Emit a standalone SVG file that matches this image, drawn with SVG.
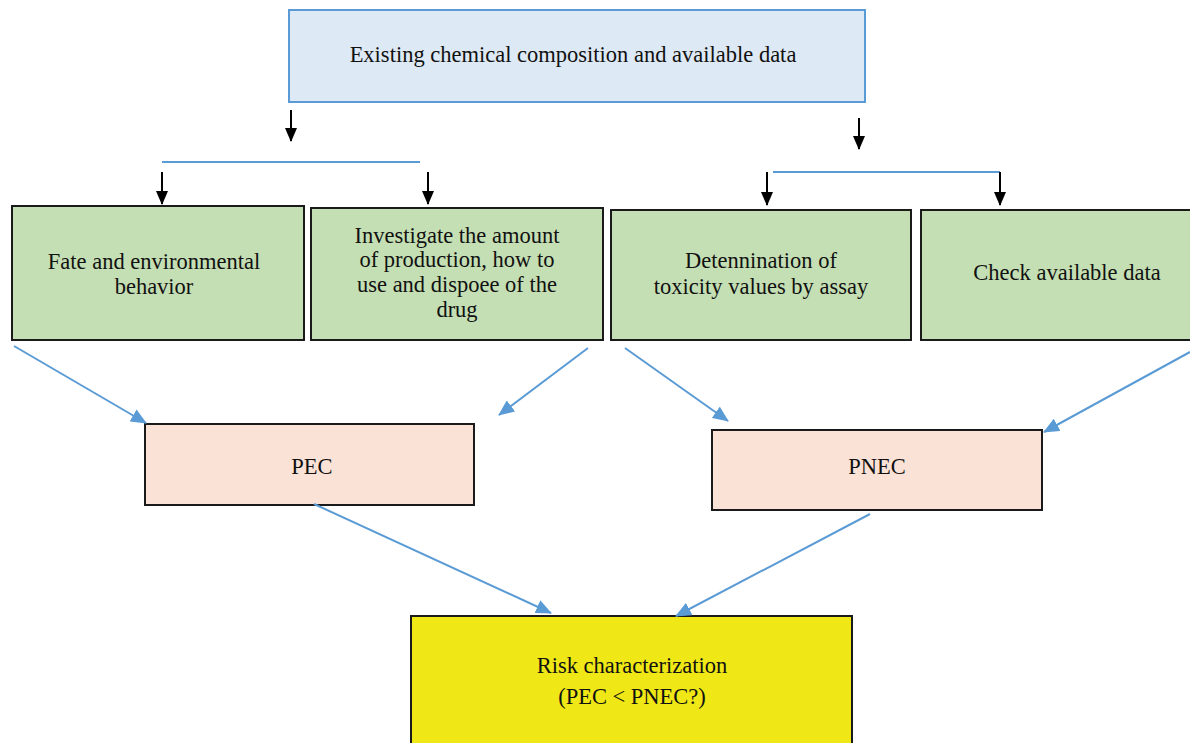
<svg xmlns="http://www.w3.org/2000/svg" width="1190" height="743" viewBox="0 0 1190 743">
<style>
text{font-family:"Liberation Serif","DejaVu Serif",serif;font-size:22.5px;fill:#111;text-anchor:middle}
.top{fill:#dde9f4;stroke:#5b9bd5;stroke-width:2}
.green{fill:#c5dfb4;stroke:#1a1a1a;stroke-width:2}
.pink{fill:#fae3d6;stroke:#1a1a1a;stroke-width:2}
.yellow{fill:#f0e816;stroke:#1a1a1a;stroke-width:2}
.blk{stroke:#000;stroke-width:2;fill:none}
.blu{stroke:#5b9bd5;stroke-width:2;fill:none}
</style>
<defs>
<marker id="ab" markerWidth="14" markerHeight="12" refX="13" refY="6" orient="auto" markerUnits="userSpaceOnUse"><path d="M0,0 L14,6 L0,12 Z" fill="#000"/></marker>
<marker id="au" markerWidth="16" markerHeight="14" refX="15" refY="7" orient="auto" markerUnits="userSpaceOnUse"><path d="M0,0 L16,7 L0,14 Z" fill="#5b9bd5"/></marker>
</defs>
<g id="top"><rect class="top" x="289" y="10" width="576" height="92"/><text x="573" y="62">Existing chemical composition and available data</text></g>
<g id="fate"><rect class="green" x="12" y="206" width="292" height="134"/><text x="154" y="269">Fate and environmental</text><text x="154" y="294">behavior</text></g>
<g id="invest"><rect class="green" x="311" y="208" width="292" height="132"/><text x="457" y="243">Investigate the amount</text><text x="457" y="267">of production, how to</text><text x="457" y="292">use and dispoee of the</text><text x="457" y="317">drug</text></g>
<g id="deten"><rect class="green" x="611" y="210" width="300" height="130"/><text x="761" y="268">Detennination of</text><text x="761" y="294">toxicity values by assay</text></g>
<g id="check"><rect class="green" x="921" y="210" width="280" height="130"/><text x="1067" y="280">Check available data</text></g>
<g id="pec"><rect class="pink" x="145" y="424" width="329" height="81"/><text x="312" y="474">PEC</text></g>
<g id="pnec"><rect class="pink" x="712" y="430" width="330" height="80"/><text x="877" y="474">PNEC</text></g>
<g id="risk"><rect class="yellow" x="411" y="616" width="441" height="140"/><text x="632" y="673">Risk characterization</text><text x="632" y="704">(PEC &lt; PNEC?)</text></g>
<g id="connectors">
<path class="blk" d="M291,110 V141" marker-end="url(#ab)"/>
<path class="blk" d="M859,118 V149" marker-end="url(#ab)"/>
<path class="blu" d="M162,162 H420"/>
<path class="blu" d="M773,172 H1000"/>
<path class="blk" d="M162,172 V204" marker-end="url(#ab)"/>
<path class="blk" d="M428,172 V204" marker-end="url(#ab)"/>
<path class="blk" d="M767,172 V205" marker-end="url(#ab)"/>
<path class="blk" d="M1000,172 V205" marker-end="url(#ab)"/>
<path class="blu" d="M14,346 L146,423" marker-end="url(#au)"/>
<path class="blu" d="M588,348 L499,415" marker-end="url(#au)"/>
<path class="blu" d="M625,348 L728,421" marker-end="url(#au)"/>
<path class="blu" d="M1190,352 L1044,432" marker-end="url(#au)"/>
<path class="blu" d="M314,504 L551,613" marker-end="url(#au)"/>
<path class="blu" d="M870,514 L676,616" marker-end="url(#au)"/>
</g>
</svg>
